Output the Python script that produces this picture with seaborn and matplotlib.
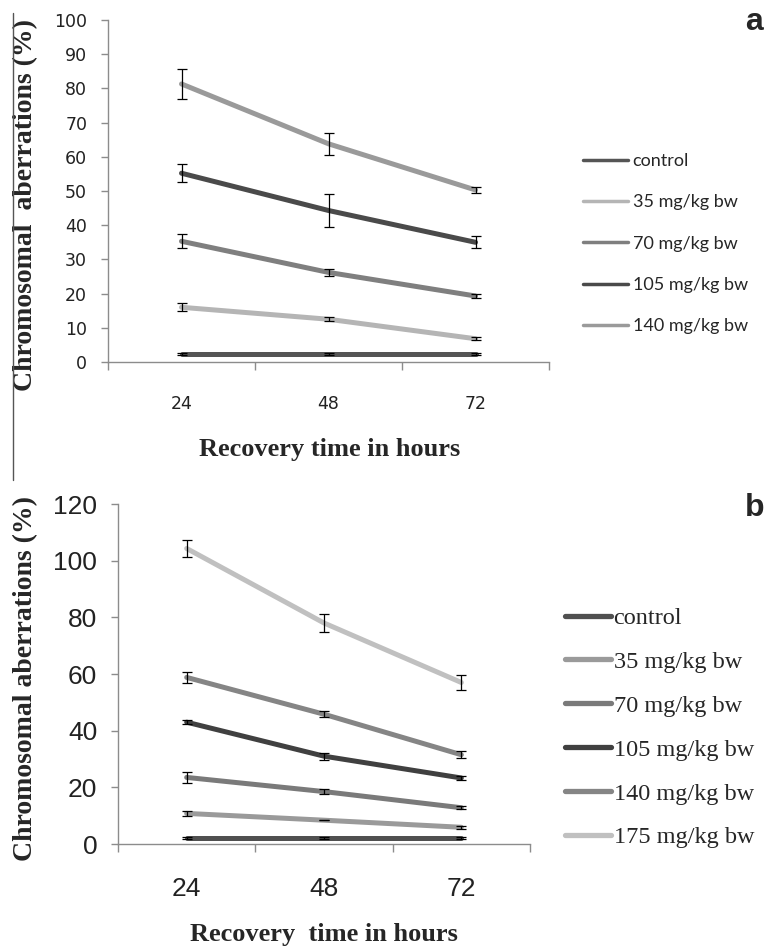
import matplotlib
matplotlib.use("Agg")
import numpy as np
import pandas as pd
import matplotlib.pyplot as plt
import seaborn as sns
from matplotlib.lines import Line2D
from matplotlib.ticker import FixedLocator

# ---------------------------------------------------------------- data ----
hours = ["24", "48", "72"]

doses_a = ["control", "35 mg/kg bw", "70 mg/kg bw", "105 mg/kg bw", "140 mg/kg bw"]
mean_a = {
    "control":      [2.3, 2.3, 2.3],
    "35 mg/kg bw":  [16.0, 12.5, 6.8],
    "70 mg/kg bw":  [35.3, 26.2, 19.3],
    "105 mg/kg bw": [55.2, 44.3, 35.0],
    "140 mg/kg bw": [81.3, 63.8, 50.3],
}
err_a = {
    "control":      [0.3, 0.3, 0.3],
    "35 mg/kg bw":  [1.2, 0.6, 0.5],
    "70 mg/kg bw":  [2.1, 1.1, 0.7],
    "105 mg/kg bw": [2.7, 4.7, 1.8],
    "140 mg/kg bw": [4.3, 3.2, 1.0],
}
colors_a = ["#555555", "#b5b5b5", "#7f7f7f", "#4a4a4a", "#9a9a9a"]

doses_b = ["control", "35 mg/kg bw", "70 mg/kg bw", "105 mg/kg bw",
           "140 mg/kg bw", "175 mg/kg bw"]
mean_b = {
    "control":      [2.2, 2.2, 2.2],
    "35 mg/kg bw":  [10.8, 8.4, 5.9],
    "70 mg/kg bw":  [23.5, 18.5, 12.8],
    "105 mg/kg bw": [43.0, 31.0, 23.3],
    "140 mg/kg bw": [58.8, 45.8, 31.5],
    "175 mg/kg bw": [104.3, 78.0, 57.0],
}
err_b = {
    "control":      [0.4, 0.3, 0.3],
    "35 mg/kg bw":  [0.8, 0.0, 0.6],
    "70 mg/kg bw":  [2.0, 1.0, 0.6],
    "105 mg/kg bw": [0.8, 1.2, 0.6],
    "140 mg/kg bw": [2.0, 1.0, 1.3],
    "175 mg/kg bw": [3.0, 3.1, 2.6],
}
colors_b = ["#505050", "#9a9a9a", "#7a7a7a", "#404040", "#858585", "#c0c0c0"]


def to_long(doses, means, errs):
    rows = []
    for d in doses:
        for i, h in enumerate(hours):
            rows.append({"dose": d, "pos": i, "hour": h,
                         "value": means[d][i], "err": errs[d][i]})
    return pd.DataFrame(rows)


df_a = to_long(doses_a, mean_a, err_a)
df_b = to_long(doses_b, mean_b, err_b)

# -------------------------------------------------------------- figure ----
sns.set_style("white")
plt.rcParams["font.family"] = ["DejaVu Sans"]

fig = plt.figure(figsize=(7.7, 9.48), dpi=100)
W, H = 770, 948


def ax_rect(x0, x1, ytop, ybot):
    return [x0 / W, 1 - ybot / H, (x1 - x0) / W, (ybot - ytop) / H]


ax_a = fig.add_axes(ax_rect(108, 549, 20, 362))
ax_b = fig.add_axes(ax_rect(118, 530, 504, 844))

SERIF = ["Liberation Serif", "DejaVu Serif"]
NARROW = ["Liberation Sans Narrow", "Liberation Sans"]


def draw_panel(ax, df, doses, colors, lw):
    sns.lineplot(data=df, x="pos", y="value", hue="dose", hue_order=doses,
                 palette=colors, linewidth=lw, ax=ax, legend=False,
                 errorbar=None, sort=True)
    for d in doses:
        sub = df[df["dose"] == d]
        ax.errorbar(sub["pos"], sub["value"], yerr=sub["err"], fmt="none",
                    ecolor="black", elinewidth=0.9, capsize=3.5,
                    capthick=0.9, zorder=5)
    ax.set_xlim(-0.5, 2.5)
    ax.set_xticks([0, 1, 2])
    ax.set_xticklabels(hours)
    ax.xaxis.set_minor_locator(FixedLocator([-0.5, 0.5, 1.5, 2.5]))
    ax.tick_params(axis="x", which="major", length=0, pad=24)
    ax.tick_params(axis="x", which="minor", length=6, width=1,
                   color="#8c8c8c", direction="out", bottom=True)
    ax.tick_params(axis="y", length=5, width=1, color="#8c8c8c",
                   direction="out", left=True, pad=10)
    sns.despine(ax=ax)
    for s in ["left", "bottom"]:
        ax.spines[s].set_color("#8c8c8c")
        ax.spines[s].set_linewidth(1.0)


# ---- panel a ----
draw_panel(ax_a, df_a, doses_a, colors_a, 3.6)
ax_a.set_ylim(0, 100)
ax_a.set_yticks(np.arange(0, 101, 10))
for lab in ax_a.get_xticklabels() + ax_a.get_yticklabels():
    lab.set_fontsize(12.5)
    lab.set_color("#222222")
ax_a.set_xlabel("Recovery time in hours", family=SERIF, fontweight="bold",
                fontsize=19)
ax_a.set_ylabel("Chromosomal  aberrations (%)", family=SERIF,
                fontweight="bold", fontsize=20)
ax_a.xaxis.set_label_coords(0.503, -0.222)
ax_a.yaxis.set_label_coords(-0.159, 0.46)

handles_a = [Line2D([], [], color=c, lw=2.5) for c in colors_a]
fig.legend(handles_a, doses_a, loc="upper left",
           bbox_to_anchor=(583 / W, 1 - 153 / H), frameon=False,
           prop={"family": ["Lato", "DejaVu Sans"], "size": 13},
           handlelength=2.5, handletextpad=0.25, labelspacing=1.4,
           borderpad=0, borderaxespad=0)
fig.text(745 / W, 1 - 22 / H, "a", family=["Liberation Sans", "DejaVu Sans"],
         fontweight="bold", fontsize=23, ha="left", va="center")

# ---- panel b ----
draw_panel(ax_b, df_b, doses_b, colors_b, 3.6)
ax_b.set_ylim(0, 120)
ax_b.set_yticks(np.arange(0, 121, 20))
for lab in ax_b.get_xticklabels() + ax_b.get_yticklabels():
    lab.set_family(NARROW)
    lab.set_fontsize(19)
    lab.set_color("#222222")
ax_b.set_xlabel("Recovery  time in hours", family=SERIF, fontweight="bold",
                fontsize=19)
ax_b.set_ylabel("Chromosomal aberrations (%)", family=SERIF,
                fontweight="bold", fontsize=20)
ax_b.xaxis.set_label_coords(0.5, -0.232)
ax_b.yaxis.set_label_coords(-0.194, 0.487)

handles_b = [Line2D([], [], color=c, lw=3.8) for c in colors_b]
fig.legend(handles_b, doses_b, loc="upper left",
           bbox_to_anchor=(565 / W, 1 - 607 / H), frameon=False,
           prop={"family": SERIF, "size": 17.5},
           handlelength=1.9, handletextpad=0.1, labelspacing=0.9,
           borderpad=0, borderaxespad=0)
fig.text(745 / W, 1 - 508 / H, "b", family=["Liberation Sans", "DejaVu Sans"],
         fontweight="bold", fontsize=23, ha="left", va="center")

# thin frame line on the left of panel a
fig.add_artist(Line2D([13 / W, 13 / W], [1 - 13 / H, 1 - 480 / H],
                      transform=fig.transFigure, color="#555555", lw=1))

fig.savefig("out.png", dpi=100)
